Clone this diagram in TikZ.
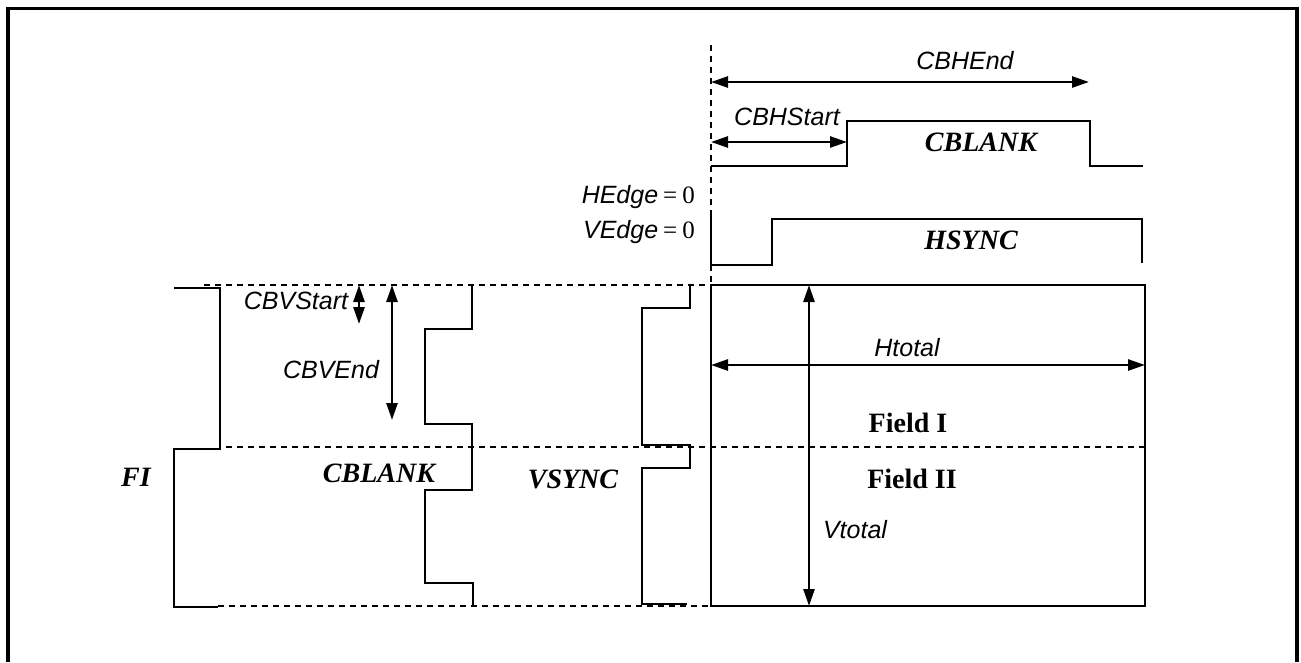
\documentclass[tikz,border=0pt]{standalone}
\usepackage{fontspec}
\setmainfont{Liberation Serif}
\setsansfont{Liberation Sans}
\usetikzlibrary{arrows.meta}

\begin{document}
\begin{tikzpicture}[x=1pt, y=-1pt,
        wave/.style={line width=2.4pt, line join=miter},
        gridline/.style={line width=2.4pt, dash pattern=on 6pt off 5pt},
        dim/.style={line width=2.6pt, {Triangle[length=17pt,width=11pt]}-{Triangle[length=17pt,width=11pt]}},
        lbl/.style={font=\fontsize{25}{30}\selectfont\sffamily\itshape, inner sep=0pt},
        sig/.style={font=\fontsize{28}{32}\selectfont\bfseries\itshape, inner sep=0pt},
        fld/.style={font=\fontsize{28}{32}\selectfont\bfseries, inner sep=0pt}
    ]
        \useasboundingbox (0,0) rectangle (1301,662);
        % frame
        \draw[line width=3.5pt] (8,662) -- (8,8.5) -- (1297,8.5) -- (1297,662);

        % horizontal timing
        \coordinate (org) at (711,45);
        \coordinate (h0) at (711,285);
        \draw[gridline] (org) -- (h0);

        \coordinate (cbhe0) at (711,82);
        \coordinate (cbhe1) at (1089,82);
        \draw[dim] (cbhe0) -- (cbhe1);
        \node[lbl] (cbhend) at (965,61) {CBHEnd};

        \coordinate (cbhs0) at (711,142);
        \coordinate (cbhs1) at (847,142);
        \draw[dim] (cbhs0) -- (cbhs1);
        \node[lbl] (cbhstart) at (787,117) {CBHStart};

        \draw[wave] (711,166) -- (847,166) -- (847,121) -- (1090,121) -- (1090,166) -- (1143,166);
        \node[sig] (cblankh) at (981,142) {CBLANK};

        \node[lbl, anchor=east] (hedge) at (695,197) {HEdge\hspace{5pt}{\rmfamily\upshape =\hspace{5pt}0}};
        \node[lbl, anchor=east] (vedge) at (695,232) {VEdge\hspace{5pt}{\rmfamily\upshape =\hspace{5pt}0}};

        \draw[wave] (711,215) -- (711,265) -- (772,265) -- (772,219) -- (1142,219) -- (1142,263);
        \node[sig] (hsync) at (971,240) {HSYNC};

        % vertical timing
        \draw[gridline] (204,285) -- (h0);
        \draw[gridline] (226,447) -- (1145,447);
        \draw[gridline] (218,606) -- (711,606);

        \draw[wave] (h0) rectangle (1145,606);
        \coordinate (vt0) at (809,285);
        \coordinate (vt1) at (809,606);
        \draw[dim] (vt0) -- (vt1);
        \node[lbl] (vtotal) at (855,530) {Vtotal};
        \coordinate (ht0) at (711,365);
        \coordinate (ht1) at (1145,365);
        \draw[dim] (ht0) -- (ht1);
        \node[lbl] (htotal) at (907,348) {Htotal};
        \node[fld] (field1) at (908,423) {Field I};
        \node[fld] (field2) at (912,479) {Field II};

        \draw[wave] (174,288) -- (220,288) -- (220,449) -- (174,449) -- (174,607) -- (218,607);
        \node[sig] (fi) at (136,477) {FI};

        \coordinate (cbvs0) at (359,285);
        \coordinate (cbvs1) at (359,324);
        \draw[dim] (cbvs0) -- (cbvs1);
        \node[lbl] (cbvstart) at (296,301) {CBVStart};
        \coordinate (cbve0) at (392,285);
        \coordinate (cbve1) at (392,420);
        \draw[dim] (cbve0) -- (cbve1);
        \node[lbl] (cbvend) at (331,370) {CBVEnd};

        \draw[wave] (472,285) -- (472,329) -- (425,329) -- (425,424) -- (472,424) -- (472,490)
            -- (425,490) -- (425,583) -- (473,583) -- (473,606);
        \node[sig] (cblankv) at (379,473) {CBLANK};

        \draw[wave] (690,285) -- (690,308) -- (642,308) -- (642,445) -- (690,445) -- (690,468)
            -- (642,468) -- (642,604) -- (687,604);
        \node[sig] (vsync) at (573,479) {VSYNC};
\end{tikzpicture}
\end{document}
